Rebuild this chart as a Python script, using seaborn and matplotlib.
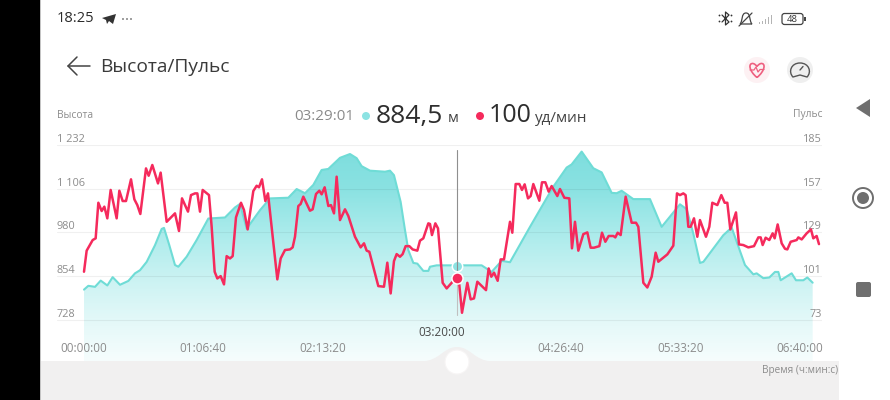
import numpy as np
import pandas as pd
import matplotlib
matplotlib.use("Agg")
import matplotlib.pyplot as plt
import seaborn as sns
from matplotlib.colors import LinearSegmentedColormap
from matplotlib.patches import Circle, Rectangle, Polygon, FancyBboxPatch, PathPatch
from matplotlib.path import Path

elev_t = [0,145,369,559,782,961,1207,1486,1710,1878,2101,2380,2604,2682,2861,3051,3163,3442,3777,4169,4727,5063,5230,5454,5901,6236,6851,7130,7410,7689,7968,8192,8583,8918,9142,9309,9589,10092,10259,10393,10617,10762,10874,11042,11176,11377,11545,11601,11824,13333,13668,14003,14283,14954,15736,16183,16350,16686,17077,17357,17692,17859,18027,18418,18977,19368,19982,20206,20429,20653,20765,21436,21715,22162,22442,22553,22777,22978,23168,23280,23358,23727,23872,24118,24252,24431]
elev_v = [815,826,823,841,827,851,829,840,862,871,895,943,990,993,943,886,881,910,958,1020,1023,1052,1062,991,1044,1078,1080,1105,1093,1117,1160,1163,1195,1206,1194,1171,1158,1155,1158,1145,1068,987,929,892,890,869,869,881,885,885,866,898,894,996,1112,1167,1176,1213,1165,1153,1094,1093,1100,1076,1076,996,1061,1047,977,892,895,972,994,886,859,862,848,850,866,866,842,862,842,842,850,835]

pulse_t = [0,89,291,391,481,592,682,782,894,1095,1185,1296,1408,1576,1688,1788,1889,2079,2168,2291,2481,2570,2772,3051,3185,3286,3487,3587,3722,3800,3889,3979,4191,4280,4381,4470,4582,4694,4783,4895,4985,5096,5264,5365,5487,5677,5789,5867,5968,6080,6169,6482,6594,6739,6907,6996,7074,7186,7264,7354,7577,7667,7779,7890,7968,8069,8192,8281,8382,8471,8583,8751,8863,9086,9276,9388,9477,9567,9868,10058,10170,10282,10393,10483,10595,10684,10785,10908,11019,11176,11265,11377,11545,11601,11667,11780,11869,12026,12160,12327,12473,12585,12674,12853,12965,13076,13188,13479,13568,13657,13747,13870,13970,14082,14283,14361,14473,14596,14685,14775,14887,14976,15065,15267,15356,15468,15580,15680,15870,15959,16105,16272,16361,16462,16574,16742,16876,16988,17100,17279,17368,17480,17592,17748,17815,17893,17994,18161,18363,18508,18586,18754,18888,19033,19167,19256,19558,19759,19882,19982,20094,20172,20262,20340,20452,20564,20653,20854,20966,21067,21235,21369,21481,21570,21670,21860,21961,22106,22274,22464,22610,22688,22755,22855,22978,23090,23157,23258,23392,23504,23582,23694,23895,23951,24063,24230,24375,24453,24565,24643]
pulse_v = [103.8,117.3,124.1,125.2,148.0,142.7,145.5,138.0,156.2,138.0,155.7,149.1,149.1,163.0,150.2,146.5,140.8,170.0,165.3,172.2,160.4,167.3,135.8,141.2,129.9,150.8,142.3,152.9,154.0,154.0,142.3,156.2,152.9,132.6,103.8,99.5,101.0,95.7,113.8,112.3,113.8,138.6,148.0,143.3,130.9,155.5,158.9,157.9,163.0,149.1,154.0,98.9,112.3,117.7,118.1,119.4,126.2,145.9,147.2,151.9,142.9,143.8,153.6,155.7,153.4,157.9,145.9,146.5,141.2,164.7,136.9,143.8,139.5,126.2,119.4,122.0,117.3,116.6,94.6,94.2,109.6,89.9,110.6,115.1,113.4,115.1,120.2,120.2,118.1,117.3,123.7,125.2,134.8,134.4,127.3,134.8,131.6,96.7,93.1,96.7,99.5,95.2,77.5,96.7,86.1,86.7,97.4,92.0,105.9,100.6,103.2,98.0,111.7,111.7,135.8,128.8,160.0,160.0,156.2,159.8,150.8,152.3,160.0,149.3,161.1,161.1,155.1,158.7,152.3,156.8,151.2,150.8,118.8,135.8,117.3,127.9,129.0,119.2,119.2,120.2,128.8,123.0,126.7,126.7,125.8,128.8,127.3,151.9,135.2,135.2,132.6,96.7,93.7,100.6,116.0,110.2,114.9,120.5,154.0,152.9,154.0,152.9,132.6,132.6,138.0,126.2,136.9,126.2,132.6,148.0,146.5,152.9,148.0,148.0,130.9,141.8,121.3,120.9,119.4,120.2,125.8,125.8,120.9,125.6,124.1,128.4,125.2,134.1,122.0,118.5,118.1,123.0,124.1,125.8,124.5,128.4,130.9,125.2,126.7,121.5]

elev_ticks = [728, 854, 980, 1106, 1232]
elev_labels = ["728", "854", "980", "1 106", "1 232"]
pulse_ticks = [73, 101, 129, 157, 185]
time_ticks = [0, 4000, 8000, 12000, 16000, 20000, 24000]
cursor_t = 12490
cursor_elev = 884.5
cursor_pulse = 100
cursor_time = "03:29:01"
cursor_elev_txt = "884,5"
cursor_pulse_txt = "100"

TEAL_LINE = "#6fdcd6"
RED = "#f52a5c"
GREY_TXT = "#8c8c8c"
FONT = ["Open Sans", "DejaVu Sans"]

sns.set_theme(style="white")
plt.rcParams["font.family"] = FONT

W, H = 890, 400
fig = plt.figure(figsize=(W / 100, H / 100), dpi=100, facecolor="white")

# plot region, pixels
L, R, T, B = 57, 822, 145, 361
ax = fig.add_axes([L / W, 1 - B / H, (R - L) / W, (B - T) / H])
ax.patch.set_alpha(0)
px_s = 119.3 / 4000
ax.set_xlim((L - 84) / px_s, (R - 84) / px_s)
e_per_px = 126 / 43.7
p_per_px = 28 / 43.7
ax.set_ylim(1232 - (B - T) * e_per_px, 1232)

# gradient area under the elevation
cmap = LinearSegmentedColormap.from_list("g", ["#f6fdfd", "#e2f8f8", "#c8f2f2", "#aaebeb", "#8ae2e2", "#7cdddd"])
grad = np.linspace(0, 1, 256).reshape(-1, 1)
y0, y1 = ax.get_ylim()
x0, x1 = ax.get_xlim()
im = ax.imshow(grad, origin="lower", aspect="auto", cmap=cmap, extent=[x0, x1, y0, y1], zorder=1)
poly = ax.fill_between(elev_t, elev_v, y0, color="none", lw=0)
im.set_clip_path(poly.get_paths()[0], transform=ax.transData)
ax.set_xlim(x0, x1)
ax.set_ylim(y0, y1)

df_e = pd.DataFrame({"t": elev_t, "v": elev_v})
df_p = pd.DataFrame({"t": pulse_t, "v": pulse_v})
sns.lineplot(data=df_e, x="t", y="v", ax=ax, color=TEAL_LINE, lw=1.5, estimator=None, sort=False, zorder=3)

ax.set_yticks(elev_ticks)
ax.set_yticklabels(elev_labels)
ax.grid(True, axis="y", color="black", alpha=0.06, lw=0.8)
ax.grid(False, axis="x")
ax.set_axisbelow(False)
ax.set_xlabel("")
ax.set_ylabel("")
for s in ax.spines.values():
    s.set_visible(False)
ax.tick_params(axis="y", length=0, pad=0, labelsize=7.8, labelcolor=GREY_TXT)
for lab in ax.get_yticklabels():
    lab.set_ha("left")
    lab.set_va("bottom")

def hms(s):
    return f"{s // 3600:02d}:{s % 3600 // 60:02d}:{s % 60:02d}"

ax.set_xticks(time_ticks)
ax.set_xticklabels([hms(t) for t in time_ticks])
ax.tick_params(axis="x", length=0, pad=-13.5, labelsize=8.5, labelcolor=GREY_TXT)
cur_tick = ax.xaxis.get_major_ticks()[3]
cur_tick.set_pad(-25)
cur_tick.label1.set_color("#4a4a4a")

ax2 = ax.twinx()
ax2.patch.set_alpha(0)
ax2.set_ylim(185 - (B - T) * p_per_px, 185)
ax2.set_xlim(x0, x1)
sns.lineplot(data=df_p, x="t", y="v", ax=ax2, color=RED, lw=1.8, estimator=None, sort=False, zorder=3)
ax2.set_yticks(pulse_ticks)
ax2.set_yticklabels([str(v) for v in pulse_ticks])
ax2.set_ylabel("")
ax2.set_xlabel("")
for s in ax2.spines.values():
    s.set_visible(False)
ax2.tick_params(axis="y", length=0, pad=0, labelsize=7.8, labelcolor=GREY_TXT)
for lab in ax2.get_yticklabels():
    lab.set_ha("right")
    lab.set_va("bottom")

# cursor
top_p = 182
ax2.plot([cursor_t, cursor_t], [top_p, 105], color="#8f8f8f", lw=0.8, zorder=2.5)
ax2.plot([cursor_t, cursor_t], [96, 76], color="#c0c0c0", lw=0.8, zorder=2.5)
ax.plot([cursor_t], [cursor_elev], "o", ms=7.5, mfc="#8ce3e3", mec="white", mew=1.1, zorder=5)
ax2.plot([cursor_t], [cursor_pulse], "o", ms=8, mfc=RED, mec="white", mew=1.1, zorder=5)

# screen chrome in pixel coordinates
ov = fig.add_axes([0, 0, 1, 1], zorder=10)
ov.set_xlim(0, W)
ov.set_ylim(H, 0)
ov.axis("off")
ov.patch.set_alpha(0)

ov.add_patch(Rectangle((0, 0), 40, H, color="black", lw=0))
ov.add_patch(Rectangle((40, 0), 1.2, H, color="#c4c4c4", lw=0))
GB = "#f1f0f0"
ov.add_patch(Rectangle((41, 361), 798, 39, color=GB, lw=0))
hump = Path([(421, 361.5), (440, 361), (443, 347), (457, 347), (471, 347), (474, 361), (493, 361.5)],
            [Path.MOVETO, Path.CURVE4, Path.CURVE4, Path.CURVE4, Path.CURVE4, Path.CURVE4, Path.CURVE4])
ov.add_patch(PathPatch(hump, fc=GB, ec="none"))
ov.add_patch(Circle((457, 362), 12, fc="white", ec="#f7f5f5", lw=0.8))

def txt(x, y, s, size, color="#333333", ha="left", va="center", **kw):
    return ov.text(x, y, s, fontsize=size, color=color, ha=ha, va=va, **kw)

txt(57, 19, "18:25", 10.5, "#2b2b2b", weight="medium")
ov.add_patch(Polygon([(102, 18), (116, 14), (113, 24), (109, 21), (107, 24), (106, 20)], fc="#333333", lw=0))
for x in (123, 127, 131):
    ov.add_patch(Circle((x, 19), 0.8, fc="#444444", lw=0))

txt(100, 67, "Высота/Пульс", 13.8, "#3a3a3a")
ov.plot([68, 90], [66, 66], color="#444444", lw=1.1)
ov.plot([77, 68, 77], [57, 66, 75], color="#444444", lw=1.1)

txt(57, 115, "Высота", 7.4, GREY_TXT)
txt(822, 115, "Пульс", 7.4, GREY_TXT, ha="right")
txt(294, 117, cursor_time, 10.9, "#8a8a8a")
ov.add_patch(Circle((366, 116), 4, fc="#8ce3e3", lw=0))
txt(376, 116, cursor_elev_txt, 19, "#2e2e2e")
txt(448, 118, "м", 10.6, "#444444")
ov.add_patch(Circle((480, 116), 4, fc=RED, lw=0))
txt(489, 116, cursor_pulse_txt, 18, "#2e2e2e")
txt(535, 118, "уд/мин", 11, "#444444")
txt(838, 370, "Время (ч:мин:с)", 7.2, GREY_TXT, ha="right")

# heart and gauge buttons
ov.add_patch(Circle((757, 70), 13, fc="#fdf1f3", lw=0))
heart = Path([(757, 77.5), (749, 71), (748, 63), (753, 63.5), (755, 64), (757, 66), (757, 66.5),
              (757, 66), (759, 64), (761, 63.5), (766, 63), (765, 71), (757, 77.5)],
             [Path.MOVETO] + [Path.CURVE4] * 12)
ov.add_patch(PathPatch(heart, fc="none", ec="#ee5f7f", lw=1.2))
ov.plot([750, 754, 756, 758, 760, 764], [70, 70, 67, 72, 69.5, 69.5], color="#ee5f7f", lw=0.9)
ov.add_patch(Circle((800, 70), 13, fc="#efefef", lw=0))
gauge = Path([(793, 77), (788, 72), (791, 63), (800, 63), (809, 63), (812, 72), (807, 77)],
             [Path.MOVETO] + [Path.CURVE4] * 6)
ov.add_patch(PathPatch(gauge, fc="none", ec="#555555", lw=1.0))
ov.plot([793, 800, 807], [77, 75, 77], color="#555555", lw=1.0)
ov.plot([800, 803], [70, 66.5], color="#555555", lw=1.0)

# status icons
ov.plot([722, 729, 725.5, 725.5, 729, 722], [15, 22, 25, 12, 15, 22], color="#333333", lw=0.9)
for dx, dy in ((-6, -3), (-6, 3), (6, -3), (6, 3)):
    ov.add_patch(Circle((725.5 + dx, 18.5 + dy), 0.9, fc="#333333", lw=0))
bell = Path([(740, 24), (743, 21), (741, 13), (746, 13), (751, 13), (749, 21), (752, 24), (740, 24)],
            [Path.MOVETO] + [Path.CURVE4] * 6 + [Path.LINETO])
ov.add_patch(PathPatch(bell, fc="none", ec="#444444", lw=0.9))
ov.plot([739, 752], [26, 13], color="#444444", lw=0.9)
for i, h in enumerate((2, 3, 5, 7, 9)):
    ov.add_patch(Rectangle((758.5 + i * 3, 23.5 - h), 1.7, h, fc="#b4b4b4", lw=0))
ov.add_patch(FancyBboxPatch((782, 13.5), 21, 11, boxstyle="round,pad=0,rounding_size=2.5", fc="white", ec="#444444", lw=0.9))
ov.add_patch(Rectangle((804, 17), 1.6, 4, fc="#444444", lw=0))
txt(792.5, 19, "48", 6.8, "#333333", ha="center")

# navigation buttons
NAV = "#6f6f6f"
ov.add_patch(Polygon([(856, 108), (870, 99), (870, 117)], fc=NAV, lw=0))
ov.add_patch(Circle((863, 198), 10, fc="none", ec=NAV, lw=1.4))
ov.add_patch(Circle((863, 198), 6, fc=NAV, lw=0))
ov.add_patch(FancyBboxPatch((856, 282), 15, 15, boxstyle="round,pad=0,rounding_size=2", fc=NAV, lw=0))

fig.savefig("out.png", dpi=100, facecolor="white")
